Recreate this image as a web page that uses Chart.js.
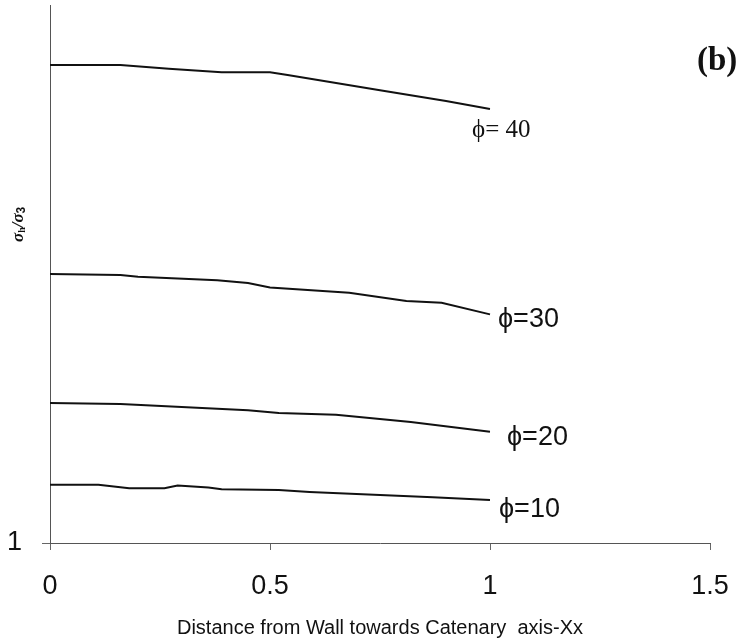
<!DOCTYPE html>
<html>
<head>
<meta charset="utf-8">
<script src="https://cdn.jsdelivr.net/npm/chart.js@4/dist/chart.umd.min.js"></script>
<style>
  html, body { margin: 0; padding: 0; background: #fff; }
  #wrap { width: 750px; height: 641px; position: relative; }
</style>
</head>
<body>
<div id="wrap"><canvas id="c" width="750" height="641"></canvas></div>
<script>
// ---- data ----
const xTicks = [0, 0.5, 1, 1.5];
const yTickLabels = [1];
const seriesNames = ['\u03D5= 40', '\u03D5=30', '\u03D5=20', '\u03D5=10'];

const xPhi40 = [0, 0.16, 0.27, 0.39, 0.50, 0.54, 0.75, 0.90, 1.00];
const yPhi40 = [6.33, 6.33, 6.29, 6.25, 6.25, 6.22, 6.05, 5.93, 5.84];

const xPhi30 = [0, 0.16, 0.20, 0.38, 0.45, 0.50, 0.68, 0.81, 0.89, 1.00];
const yPhi30 = [4.00, 3.99, 3.97, 3.93, 3.90, 3.85, 3.79, 3.70, 3.68, 3.55];

const xPhi20 = [0, 0.16, 0.45, 0.52, 0.65, 0.82, 1.00];
const yPhi20 = [2.56, 2.55, 2.48, 2.45, 2.43, 2.35, 2.24];

const xPhi10 = [0, 0.11, 0.18, 0.26, 0.29, 0.36, 0.39, 0.52, 0.59, 0.87, 1.00];
const yPhi10 = [1.65, 1.65, 1.61, 1.61, 1.64, 1.62, 1.60, 1.59, 1.57, 1.51, 1.48];

const yMin = 1, yMax = 7;

const pts = (xs, ys) => xs.map((x, i) => ({ x: x, y: ys[i] }));
const allX = [xPhi40, xPhi30, xPhi20, xPhi10];
const allY = [yPhi40, yPhi30, yPhi20, yPhi10];

// label styles (offset from series end point)
const labelStyle = [
  { dx: -18, dy: 21, font: '25px "Liberation Serif", serif' },
  { dx: 8, dy: 5, font: '27px "Liberation Sans", Arial, sans-serif' },
  { dx: 17, dy: 6, font: '27px "Liberation Sans", Arial, sans-serif' },
  { dx: 9, dy: 10, font: '27px "Liberation Sans", Arial, sans-serif' }
];

const annot = {
  id: 'annot',
  afterDraw(chart) {
    const ctx = chart.ctx;
    const xs = chart.scales.x, ys = chart.scales.y;
    ctx.save();
    ctx.fillStyle = '#111';
    ctx.textBaseline = 'middle';
    ctx.textAlign = 'left';
    seriesNames.forEach((name, i) => {
      const n = allX[i].length - 1;
      const px = xs.getPixelForValue(allX[i][n]);
      const py = ys.getPixelForValue(allY[i][n]);
      ctx.font = labelStyle[i].font;
      ctx.fillText(name, px + labelStyle[i].dx, py + labelStyle[i].dy);
    });
    // panel tag
    ctx.font = 'bold 33px "Liberation Serif", serif';
    ctx.fillText('(b)', 697, 61);
    // y-axis title, rotated
    ctx.translate(19, 224);
    ctx.rotate(-Math.PI / 2);
    ctx.textAlign = 'left';
    let x = -18;
    ctx.font = 'italic bold 17px "Liberation Serif", serif';
    ctx.fillText('\u03C3', x, 0); x += ctx.measureText('\u03C3').width;
    ctx.font = 'bold 10px "Liberation Serif", serif';
    ctx.fillText('h', x, 3); x += ctx.measureText('h').width;
    ctx.font = 'italic bold 17px "Liberation Serif", serif';
    ctx.fillText('/\u03C3', x, 0); x += ctx.measureText('/\u03C3').width;
    ctx.font = 'bold 12px "Liberation Sans", sans-serif';
    ctx.fillText('3', x, 3);
    ctx.restore();
  }
};

new Chart(document.getElementById('c'), {
  type: 'line',
  data: {
    datasets: seriesNames.map((name, i) => ({
      label: name,
      data: pts(allX[i], allY[i]),
      borderColor: '#111',
      borderWidth: 2,
      pointRadius: 0,
      fill: false,
      tension: 0
    }))
  },
  options: {
    responsive: false,
    animation: false,
    devicePixelRatio: 1,
    layout: { padding: { left: 0, right: 40, top: 5, bottom: 0 } },
    plugins: { legend: { display: false }, tooltip: { enabled: false } },
    scales: {
      x: {
        type: 'linear',
        min: xTicks[0],
        max: xTicks[xTicks.length - 1],
        afterBuildTicks: (s) => { s.ticks = xTicks.map(v => ({ value: v })); },
        afterFit: (s) => { s.height = 98; s.paddingLeft = 0; s.paddingRight = 0; },
        grid: { display: true, drawOnChartArea: false, drawTicks: true, tickLength: 7, color: '#666' },
        border: { display: true, color: '#555', width: 1 },
        ticks: {
          color: '#111',
          font: { size: 27, family: '"Liberation Sans", Arial, sans-serif' },
          padding: 20, maxRotation: 0,
          callback: (v) => String(v)
        },
        title: {
          display: true,
          text: 'Distance from Wall towards Catenary  axis-Xx',
          color: '#111',
          font: { size: 20, family: '"Liberation Sans", Arial, sans-serif' },
          padding: { top: 0, bottom: 1 }
        }
      },
      y: {
        type: 'linear',
        min: yMin,
        max: yMax,
        afterBuildTicks: (s) => { s.ticks = yTickLabels.map(v => ({ value: v })); },
        afterFit: (s) => { s.width = 50; s.paddingTop = 0; s.paddingBottom = 0; },
        grid: { display: true, drawOnChartArea: false, drawTicks: true, tickLength: 8, color: '#666' },
        border: { display: true, color: '#555', width: 1 },
        ticks: { color: '#111', font: { size: 27, family: '"Liberation Sans", Arial, sans-serif' }, padding: 20 }
      }
    }
  },
  plugins: [annot]
});
</script>
</body>
</html>
